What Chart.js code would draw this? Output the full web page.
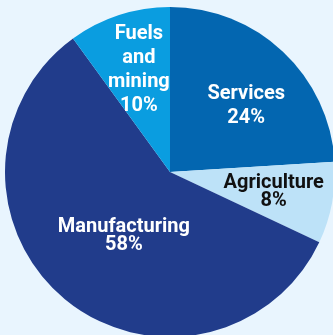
<!DOCTYPE html>
<html>
<head>
<meta charset="utf-8">
<script src="https://cdn.jsdelivr.net/npm/chart.js@4"></script>
<style>
  html, body { margin: 0; padding: 0; background: #e9f5fe; overflow: hidden; }
  body { width: 333px; height: 335px; position: relative; }
  #pie { position: absolute; left: 5px; top: 7px; }
</style>
</head>
<body>
<canvas id="pie" width="330" height="330"></canvas>
<script>
const sectors = ['Services', 'Agriculture', 'Manufacturing', 'Fuels and mining'];
const sectorLines = [['Services'], ['Agriculture'], ['Manufacturing'], ['Fuels', 'and', 'mining']];
const shares = [24, 8, 58, 10];
const sliceColors = ['#0366b0', '#bde2f8', '#213c8b', '#0a9de0'];
const textColors = ['#ffffff', '#111111', '#ffffff', '#ffffff'];

// where each label sits, as a fraction of the radius, plus line spacing
const labelLayout = [
  { r: 0.61, dAngle: 6, lh: 24 },
  { r: 0.64, dAngle: 0, lh: 18 },
  { r: 0.48, dAngle: -4, lh: 18 },
  { r: 0.645, dAngle: 1, lh: 24 }
];

const sliceLabels = {
  id: 'sliceLabels',
  afterDatasetsDraw(chart) {
    const c = chart.ctx;
    const meta = chart.getDatasetMeta(0);
    c.save();
    c.font = 'bold 20px Roboto, "Liberation Sans", sans-serif';
    c.textAlign = 'center';
    c.textBaseline = 'middle';
    meta.data.forEach((arc, i) => {
      const lay = labelLayout[i];
      const mid = (arc.startAngle + arc.endAngle) / 2 + lay.dAngle * Math.PI / 180;
      const rr = arc.outerRadius * lay.r;
      const x = arc.x + Math.cos(mid) * rr;
      const y = arc.y + Math.sin(mid) * rr;
      const lines = sectorLines[i].concat([shares[i] + '%']);
      const top = y - (lines.length - 1) * lay.lh / 2;
      c.fillStyle = textColors[i];
      lines.forEach((t, k) => c.fillText(t, x, top + k * lay.lh));
    });
    c.restore();
  }
};

new Chart(document.getElementById('pie'), {
  type: 'pie',
  data: {
    labels: sectors,
    datasets: [{
      data: shares,
      backgroundColor: sliceColors,
      borderWidth: 0
    }]
  },
  options: {
    responsive: false,
    animation: false,
    layout: { padding: 0 },
    plugins: {
      legend: { display: false },
      tooltip: { enabled: false }
    }
  },
  plugins: [sliceLabels]
});
</script>
</body>
</html>
